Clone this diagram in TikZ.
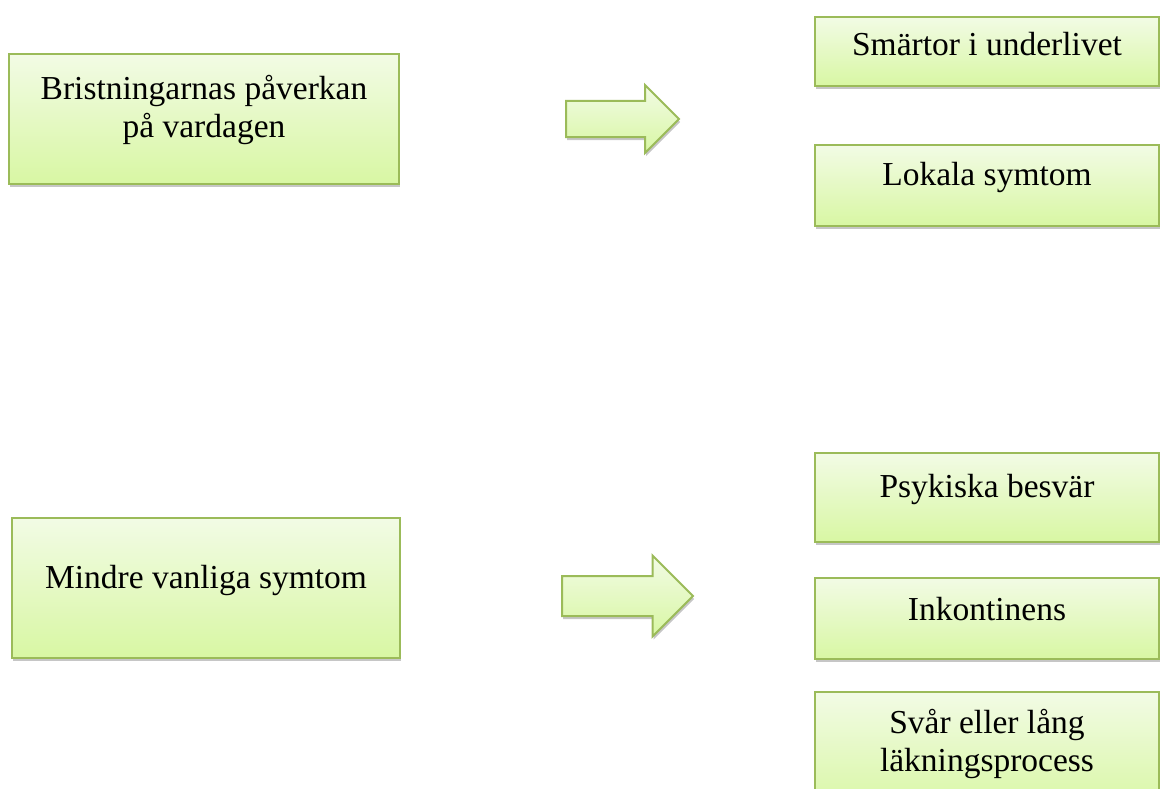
\documentclass[tikz,border=0pt]{standalone}
\usepackage{fontspec}
\setmainfont{Liberation Serif}
\usetikzlibrary{positioning,shapes.arrows,shadows}

\definecolor{boxedge}{HTML}{9BBB59}
\definecolor{boxtop}{HTML}{F2FBE5}
\definecolor{boxbottom}{HTML}{D8F7A3}

\tikzset{
  box/.style={draw=boxedge, line width=2pt, top color=boxtop, bottom color=boxbottom,
    drop shadow={shadow xshift=1pt, shadow yshift=-3pt, opacity=0.45},
    font=\fontsize{33.5}{38}\selectfont, align=center, inner sep=0pt},
  oneline/.style={text height=22pt, text depth=22pt},
  twoline/.style={text height=60pt, text depth=22pt},
  blockarrow/.style={single arrow, draw=boxedge, line width=2pt, top color=boxtop,
    bottom color=boxbottom, drop shadow={shadow xshift=1pt, shadow yshift=-3pt, opacity=0.45},
    inner xsep=0pt, anchor=tail}
}

\begin{document}
\begin{tikzpicture}[x=1pt, y=1pt]
    \useasboundingbox (0,0) rectangle (1161,-789);

    \node (Paverkan) [box, twoline, minimum width=390pt, minimum height=130pt] at (204,-119)
      {Bristningarnas påverkan\\på vardagen};
    \node (Mindre) [box, oneline, minimum width=388pt, minimum height=140pt] at (206,-588)
      {Mindre vanliga symtom};

    \node (Smarta) [box, oneline, text depth=14pt, minimum width=344pt, minimum height=69pt] at (987,-51.5)
      {Smärtor i underlivet};
    \node (Lokal) [box, oneline, minimum width=344pt, minimum height=81pt, below=57pt of Smarta]
      {Lokala symtom};

    \node (Psyk) [box, oneline, minimum width=344pt, minimum height=89pt] at (987,-497.5)
      {Psykiska besvär};
    \node (Inkont) [box, oneline, text depth=18pt, minimum width=344pt, minimum height=81pt, below=34pt of Psyk]
      {Inkontinens};
    \node (Lakning) [box, twoline, minimum width=344pt, minimum height=120pt, below=31pt of Inkont]
      {Svår eller lång\\läkningsprocess};

    \node (PilA) [blockarrow, minimum height=113pt, minimum width=66pt, inner ysep=17pt,
      single arrow head extend=16pt] at (565,-119) {};
    \node (PilB) [blockarrow, minimum height=131pt, minimum width=79pt, inner ysep=19pt,
      single arrow head extend=20.5pt] at (561,-596) {};
  \end{tikzpicture}
\end{document}
